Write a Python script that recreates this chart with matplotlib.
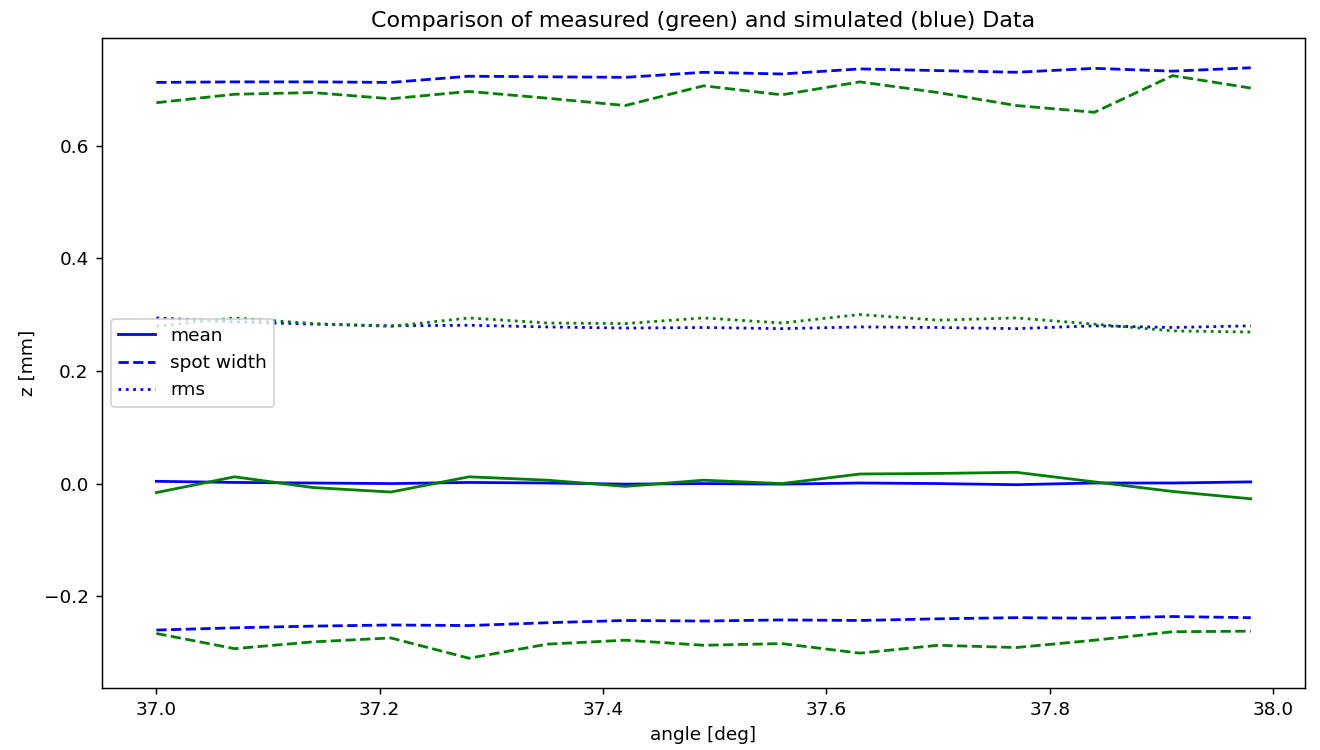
import numpy as np
import matplotlib.pyplot as plt

angle = 37.0 + 0.07*np.arange(15)

# simulated (blue)
sim_mean = [0.004, 0.002, 0.001, 0.000, 0.002, 0.001, -0.001, 0.000, -0.001, 0.001, 0.000, -0.002, 0.001, 0.001, 0.003]
sim_upper = [0.712, 0.713, 0.713, 0.712, 0.723, 0.722, 0.721, 0.730, 0.727, 0.736, 0.733, 0.730, 0.737, 0.732, 0.738]
sim_lower = [-0.260, -0.256, -0.253, -0.251, -0.252, -0.247, -0.243, -0.244, -0.242, -0.243, -0.240, -0.238, -0.239, -0.236, -0.238]
sim_rms = [0.294, 0.287, 0.283, 0.280, 0.281, 0.278, 0.276, 0.277, 0.275, 0.278, 0.277, 0.275, 0.280, 0.277, 0.280]

# measured (green)
meas_mean = [-0.016, 0.012, -0.007, -0.015, 0.012, 0.006, -0.005, 0.006, 0.000, 0.017, 0.018, 0.020, 0.003, -0.014, -0.027]
meas_upper = [0.676, 0.691, 0.694, 0.683, 0.696, 0.684, 0.671, 0.706, 0.690, 0.713, 0.694, 0.671, 0.659, 0.724, 0.702]
meas_lower = [-0.266, -0.293, -0.281, -0.274, -0.310, -0.285, -0.278, -0.287, -0.284, -0.301, -0.287, -0.291, -0.278, -0.263, -0.262]
meas_rms = [0.279, 0.294, 0.284, 0.279, 0.294, 0.285, 0.284, 0.294, 0.285, 0.300, 0.290, 0.294, 0.283, 0.271, 0.269]

# reference looks rendered at ~1.33x scale
dpi = 133
fig = plt.figure(figsize=(1320/dpi, 750/dpi), dpi=dpi)
ax = fig.add_axes([0.077, 0.083, 0.912, 0.866])

ax.plot(angle, sim_mean, 'b-', label='mean')
ax.plot(angle, sim_upper, 'b--', label='spot width')
ax.plot(angle, sim_lower, 'b--')
ax.plot(angle, sim_rms, 'b:', label='rms')

ax.plot(angle, meas_mean, 'g-')
ax.plot(angle, meas_upper, 'g--')
ax.plot(angle, meas_lower, 'g--')
ax.plot(angle, meas_rms, 'g:')

ax.set_title('Comparison of measured (green) and simulated (blue) Data')
ax.set_xlabel('angle [deg]')
ax.set_ylabel('z [mm]')
ax.legend(loc='center left')

fig.savefig('out.png', dpi=dpi)
